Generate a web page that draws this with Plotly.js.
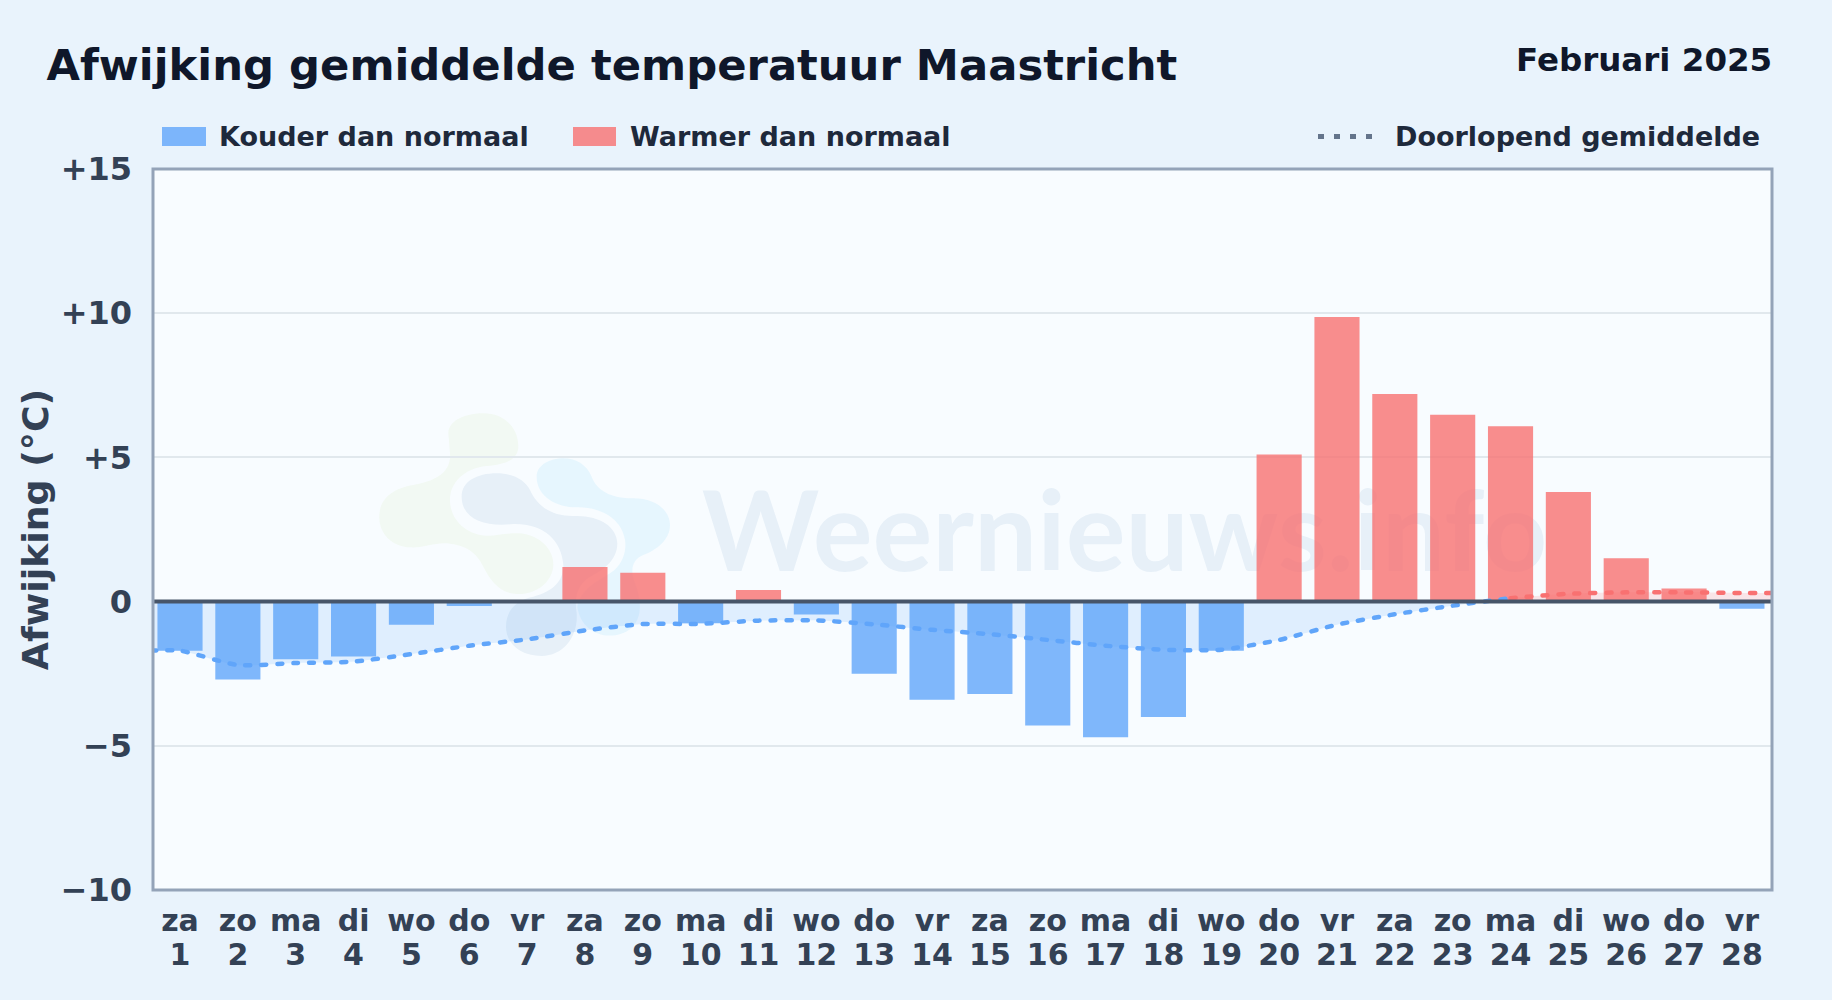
<!DOCTYPE html>
<html>
<head>
<meta charset="utf-8">
<script src="https://cdn.plot.ly/plotly-3.0.1.min.js"></script>
<style>html,body{margin:0;padding:0;background:#e9f3fc;overflow:hidden}#chart{width:1832px;height:1000px}</style>
</head>
<body>
<div id="chart"></div>
<script>
const titel = 'Afwijking gemiddelde temperatuur Maastricht';
const periode = 'Februari 2025';
const yTitel = 'Afwijking (°C)';
const watermerk = 'Weernieuws.info';
const legendaKoud = 'Kouder dan normaal';
const legendaWarm = 'Warmer dan normaal';
const legendaLijn = 'Doorlopend gemiddelde';

const dagen = [1,2,3,4,5,6,7,8,9,10,11,12,13,14,15,16,17,18,19,20,21,22,23,24,25,26,27,28];
const weekdagen = ['za','zo','ma','di','wo','do','vr','za','zo','ma','di','wo','do','vr','za','zo','ma','di','wo','do','vr','za','zo','ma','di','wo','do','vr'];
const afwijking = [-1.7,-2.7,-2.0,-1.9,-0.8,-0.15,0,1.2,1.0,-0.75,0.4,-0.45,-2.5,-3.4,-3.2,-4.3,-4.7,-4.0,-1.7,5.1,9.87,7.2,6.48,6.08,3.8,1.5,0.45,-0.25];

const gemiddeldeKoudX = [0.5,1,2,3,4,5,6,7,8,9,10,11,12,13,14,15,16,17,18,19,20,21,22,23,24];
const gemiddeldeKoudY = [-1.7,-1.7,-2.2,-2.13,-2.08,-1.82,-1.53,-1.31,-1.0,-0.78,-0.77,-0.66,-0.65,-0.79,-0.98,-1.13,-1.33,-1.53,-1.67,-1.67,-1.33,-0.8,-0.44,-0.14,0.12];
const gemiddeldeWarmX = [24,25,26,27,28,28.6];
const gemiddeldeWarmY = [0.12,0.27,0.32,0.32,0.30,0.30];

const yTicks = [-10,-5,0,5,10,15];
const yLabels = ['−10','−5','0','+5','+10','+15'];

const L=153, R=60, T=169, B=110, W=1832, H=1000;
const pw=W-L-R, ph=H-T-B;
const fx=p=>(p-L)/pw, fy=p=>1-(p-T)/ph;
const font='"DejaVu Sans", sans-serif';

const blauw='rgba(96,165,250,0.8)', rood='rgba(248,113,113,0.8)';

function bars(pred,kleur,naam){
  const x=[],y=[];
  dagen.forEach((d,i)=>{ if(pred(afwijking[i])){x.push(d);y.push(afwijking[i]);} });
  return {type:'bar',name:naam,x:x,y:y,width:0.78,marker:{color:kleur,line:{width:0}},showlegend:false,hoverinfo:'x+y'};
}
const traces=[
  bars(v=>v<0,blauw,legendaKoud),
  bars(v=>v>0,rood,legendaWarm),
  {type:'scatter',mode:'lines',name:legendaLijn,x:gemiddeldeKoudX,y:gemiddeldeKoudY,fill:'tozeroy',fillcolor:'rgba(96,165,250,0.16)',
   line:{color:'#60a5fa',width:4.5,dash:'5px,11px',shape:'spline',smoothing:0.6},showlegend:false},
  {type:'scatter',mode:'lines',name:legendaLijn,x:gemiddeldeWarmX,y:gemiddeldeWarmY,fill:'tozeroy',fillcolor:'rgba(248,113,113,0.16)',
   line:{color:'#f87171',width:4.5,dash:'5px,11px',shape:'spline',smoothing:0.6},showlegend:false},
  {type:'scatter',mode:'lines',x:[1],y:[null],xaxis:'x2',showlegend:false,hoverinfo:'skip'}
];

function logo(d,fill){
  let n=0;
  const path=d.replace(/-?\d+(\.\d+)?/g,m=>{
    const v=parseFloat(m); const r=(n++%2===0)? fx(360+v/3) : fy(390+v/3);
    return r.toFixed(5);
  });
  return {type:'path',xref:'paper',yref:'paper',layer:'below',path:path,fillcolor:fill,line:{width:0}};
}
const shapes=[
  logo('M265,130 C265,90 320,70 370,70 C430,70 475,110 475,170 C475,205 440,225 380,228 C310,235 270,280 270,330 C270,390 320,435 380,437 C410,438 440,428 480,430 C540,435 582,480 580,525 C578,575 530,615 470,612 C420,610 390,570 370,530 C350,490 320,465 260,460 C220,458 190,475 150,472 C95,470 55,430 58,375 C60,325 100,295 160,285 C220,275 275,250 270,190 Z','rgba(132,204,22,0.05)'),
  logo('M305,320 C305,275 350,250 410,250 C460,250 495,270 510,300 C530,345 570,378 640,378 C720,375 770,410 772,460 C772,510 730,540 700,555 C660,575 640,610 650,670 C655,740 610,798 545,798 C480,798 438,760 438,710 C438,660 470,630 520,620 C580,605 612,570 610,525 C605,450 550,400 460,402 C380,412 305,390 305,320 Z','rgba(20,90,160,0.07)'),
  logo('M530,260 C530,225 570,205 610,205 C650,205 680,225 695,260 C710,300 750,325 820,325 C885,325 930,360 930,405 C930,450 890,480 850,495 C815,510 810,540 825,580 C850,640 850,720 770,735 C710,745 660,710 652,650 C660,600 710,575 750,550 C790,525 800,480 795,450 C785,385 720,350 650,352 C590,352 530,320 530,260 Z','rgba(56,189,248,0.09)'),
  {type:'line',xref:'paper',yref:'paper',layer:'below',x0:fx(701),x1:fx(1548),y0:fy(526.5),y1:fy(526.5),line:{width:0},
   label:{text:watermerk,font:{family:'Lato, sans-serif',size:112,weight:700,color:'rgba(20,90,160,0.07)'},textposition:'middle',yanchor:'middle',textangle:0}},
  {type:'rect',xref:'paper',yref:'paper',x0:fx(162),x1:fx(206),y0:fy(127),y1:fy(146),fillcolor:blauw,line:{width:0}},
  {type:'rect',xref:'paper',yref:'paper',x0:fx(573),x1:fx(616),y0:fy(127),y1:fy(146),fillcolor:rood,line:{width:0}},
  {type:'line',xref:'paper',yref:'paper',x0:fx(1318),x1:fx(1376),y0:fy(136.5),y1:fy(136.5),line:{color:'#64748b',width:5,dash:'6px,10px'}},
  {type:'line',xref:'paper',yref:'y',layer:'above',x0:0,x1:1,y0:0,y1:0,line:{color:'#475569',width:4}},
  {type:'rect',xref:'paper',yref:'paper',layer:'above',x0:0,x1:1,y0:0,y1:1,line:{color:'#94a3b8',width:3},fillcolor:'rgba(0,0,0,0)'}
];
function tekst(t,x,y,size,kleur,anchor){
  return {xref:'paper',yref:'paper',x:fx(x),y:fy(y),text:t,showarrow:false,xanchor:anchor||'left',yanchor:'middle',borderpad:0,
    font:{family:font,size:size,weight:700,color:kleur}};
}
const annotations=[
  tekst(periode,1773,60,32.5,'#0f172a','right'),
  tekst(legendaKoud,217.5,136.5,27,'#1e293b'),
  tekst(legendaWarm,629,136.5,27,'#1e293b'),
  tekst(legendaLijn,1393.5,136.5,27,'#1e293b')
];
const asBasis={type:'linear',range:[0.533,28.52],tickmode:'array',tickvals:dagen,ticks:'',showgrid:false,zeroline:false,showline:false,
  tickangle:0,tickfont:{family:font,size:30,weight:700,color:'#334155'}};
const layout={
  width:W,height:H,margin:{l:L,r:R,t:T,b:B,pad:0},autosize:false,
  paper_bgcolor:'#e9f3fc',plot_bgcolor:'#f8fcff',showlegend:false,bargap:0.22,barmode:'overlay',
  title:{text:titel,xref:'container',yref:'container',x:46.5/W,xanchor:'left',y:1-64.5/H,yanchor:'middle',pad:{l:0,t:0,b:0,r:0},
    font:{family:font,size:43.3,weight:700,color:'#0f172a'}},
  xaxis:Object.assign({},asBasis,{ticktext:weekdagen,ticklabelstandoff:10}),
  xaxis2:Object.assign({},asBasis,{ticktext:dagen.map(String),overlaying:'x',anchor:'y',side:'bottom',ticklabelstandoff:44}),
  yaxis:{range:[-10,15],tickmode:'array',tickvals:yTicks,ticktext:yLabels,ticks:'',zeroline:false,
    gridcolor:'#e1e8ed',gridwidth:2,showline:false,ticklabelstandoff:20,
    tickfont:{family:font,size:32,weight:700,color:'#334155'},
    title:{text:yTitel,standoff:0,font:{family:font,size:36.3,weight:700,color:'#334155'}}},
  shapes:shapes,annotations:annotations,hovermode:false
};
Plotly.newPlot('chart',traces,layout,{displayModeBar:false,responsive:false}).then(()=>{
  document.querySelectorAll('#chart .scatterlayer path.js-line').forEach(p=>{p.style.strokeLinecap='round';});
});
</script>
</body>
</html>
